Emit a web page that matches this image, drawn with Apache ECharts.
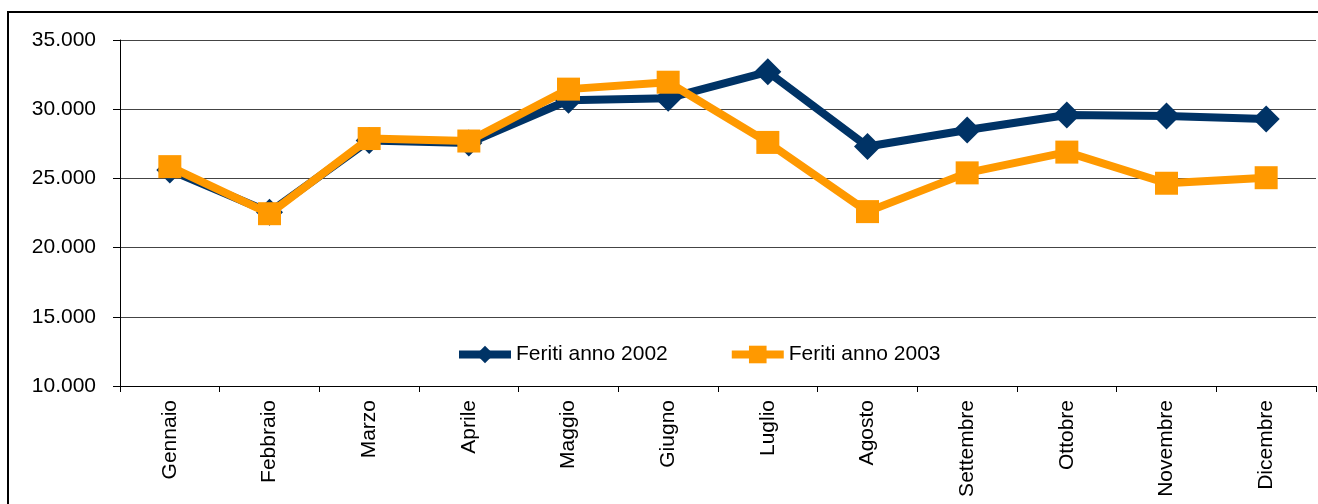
<!DOCTYPE html>
<html>
<head>
<meta charset="utf-8">
<script src="https://cdn.jsdelivr.net/npm/echarts@6/dist/echarts.min.js"></script>
<style>
  html, body { margin: 0; padding: 0; background: #ffffff; }
  #chart { width: 1318px; height: 504px; }
</style>
</head>
<body>
<div id="chart"></div>
<script>
const months = ['Gennaio', 'Febbraio', 'Marzo', 'Aprile', 'Maggio', 'Giugno', 'Luglio', 'Agosto', 'Settembre', 'Ottobre', 'Novembre', 'Dicembre'];
const feriti2002 = [25600, 22550, 27740, 27560, 30650, 30800, 32700, 27300, 28500, 29580, 29500, 29300];
const feriti2003 = [25850, 22450, 27880, 27700, 31450, 31950, 27600, 22600, 25400, 26900, 24650, 25050];
const seriesNames = ['Feriti anno 2002', 'Feriti anno 2003'];

const FONT = '"Liberation Sans", Arial, sans-serif';
const chart = echarts.init(document.getElementById('chart'), null, { renderer: 'canvas' });

function fmtThousands(v) {
  return String(v).replace(/\B(?=(\d{3})+(?!\d))/g, '.');
}

chart.setOption({
  animation: false,
  backgroundColor: '#ffffff',
  graphic: [{
    type: 'rect',
    shape: { x: 8, y: 12, width: 1330, height: 600 },
    style: { fill: 'none', stroke: '#000000', lineWidth: 2 },
    z: -10
  }],
  grid: { left: 120, right: 2, top: 40, bottom: 118, containLabel: false },
  legend: {
    left: 455,
    top: 344,
    padding: 0,
    itemWidth: 52,
    itemHeight: 22,
    itemGap: 60,
    lineStyle: { width: 8 },
    textStyle: { fontFamily: FONT, fontSize: 21, color: '#000000' },
    data: seriesNames
  },
  xAxis: {
    type: 'category',
    data: months,
    boundaryGap: true,
    axisLine: { show: true, lineStyle: { color: '#000000', width: 1 } },
    axisTick: { show: true, length: 6, alignWithLabel: false, lineStyle: { color: '#000000' } },
    axisLabel: {
      rotate: 90,
      margin: 14,
      interval: 0,
      fontFamily: FONT,
      fontSize: 21,
      color: '#000000'
    },
    splitLine: { show: false }
  },
  yAxis: {
    type: 'value',
    min: 10000,
    max: 35000,
    interval: 5000,
    axisLine: { show: true, lineStyle: { color: '#000000', width: 1 } },
    axisTick: { show: true, length: 7, lineStyle: { color: '#000000' } },
    axisLabel: {
      margin: 24,
      fontFamily: FONT,
      fontSize: 21,
      color: '#000000',
      formatter: fmtThousands
    },
    splitLine: { show: true, lineStyle: { color: '#444444', width: 1 } }
  },
  series: [
    {
      name: seriesNames[0],
      type: 'line',
      data: feriti2002,
      symbol: 'diamond',
      symbolSize: 27,
      showAllSymbol: true,
      lineStyle: { color: '#003366', width: 8 },
      itemStyle: { color: '#003366' },
      z: 2
    },
    {
      name: seriesNames[1],
      type: 'line',
      data: feriti2003,
      symbol: 'rect',
      symbolSize: 23,
      showAllSymbol: true,
      lineStyle: { color: '#FF9900', width: 8 },
      itemStyle: { color: '#FF9900' },
      z: 3
    }
  ]
});
</script>
</body>
</html>
